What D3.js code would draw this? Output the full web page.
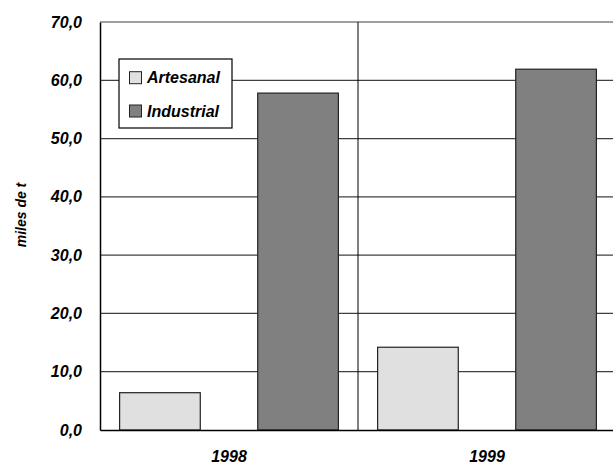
<!DOCTYPE html>
<html><head><meta charset="utf-8">
<script src="https://cdn.jsdelivr.net/npm/d3@7"></script>
<style>body{margin:0;background:#fff}svg{display:block}text{font-family:"Liberation Sans",Arial,sans-serif;font-weight:bold;font-style:italic}</style>
</head><body>
<svg id="c" width="613" height="466"></svg>
<script>
const categories = ["1998", "1999"];
const seriesNames = ["Artesanal", "Industrial"];
const artesanal = [6.4, 14.2];
const industrial = [57.8, 61.9];
const yTicks = [0, 10, 20, 30, 40, 50, 60, 70];
const colors = ["#e0e0e0", "#808080"];

(function () {
const svg = d3.select("#c");
const mLeft = 100, mRight = 616, mTop = 22, mBottom = 430;
const x0 = d3.scaleBand().domain(categories).range([mLeft, mRight]).padding(0);
const x1 = d3.scaleBand().domain(seriesNames).range([0, x0.bandwidth()]).paddingInner(0.416).paddingOuter(0.142);
const y = d3.scaleLinear().domain([0, 70]).range([mBottom, mTop]);
const fmt = v => d3.format(".1f")(v).replace(".", ",");

// gridlines
svg.append("g").selectAll("line").data(yTicks.filter(t => t > 0)).join("line")
  .attr("x1", mLeft).attr("x2", mRight).attr("y1", d => y(d)).attr("y2", d => y(d))
  .attr("stroke", "#404040").attr("stroke-width", 1.2);

// category separator
svg.append("line").attr("x1", x0("1999")).attr("x2", x0("1999")).attr("y1", mTop).attr("y2", mBottom)
  .attr("stroke", "#000").attr("stroke-width", 1);

const data = categories.map((c, i) => ({cat: c, vals: [artesanal[i], industrial[i]]}));
const g = svg.append("g").selectAll("g").data(data).join("g")
  .attr("transform", d => `translate(${x0(d.cat)},0)`);
g.selectAll("rect").data(d => d.vals.map((v, j) => ({name: seriesNames[j], v, j}))).join("rect")
  .attr("x", d => x1(d.name)).attr("width", x1.bandwidth())
  .attr("y", d => y(d.v)).attr("height", d => y(0) - y(d.v))
  .attr("fill", d => colors[d.j]).attr("stroke", "#222").attr("stroke-width", 1.2);

// axes
const yAxis = d3.axisLeft(y).tickValues(yTicks).tickFormat(fmt).tickSize(0).tickPadding(18);
const ya = svg.append("g").attr("transform", `translate(${mLeft},0)`).call(yAxis);
ya.select(".domain").attr("stroke", "#000").attr("stroke-width", 1.5);
ya.selectAll("text").attr("font-size", 16).attr("fill", "#000")
  .style("font-family", '"Liberation Sans",Arial,sans-serif').style("font-weight", "bold").style("font-style", "italic");

const xAxis = d3.axisBottom(x0).tickSize(0).tickPadding(21);
const xa = svg.append("g").attr("transform", `translate(0,${mBottom})`).call(xAxis);
xa.select(".domain").attr("stroke", "#000").attr("stroke-width", 1.5);
xa.selectAll("text").attr("font-size", 16).attr("fill", "#000")
  .style("font-family", '"Liberation Sans",Arial,sans-serif').style("font-weight", "bold").style("font-style", "italic");

// y title
svg.append("text").attr("transform", `translate(26,215) rotate(-90)`)
  .attr("text-anchor", "middle").attr("font-size", 14).text("miles de t");

// legend
const lg = svg.append("g").attr("transform", "translate(119,59)");
lg.append("rect").attr("width", 113).attr("height", 69).attr("fill", "#fff").attr("stroke", "#000").attr("stroke-width", 1.2);
seriesNames.forEach((n, i) => {
  lg.append("rect").attr("x", 10.5).attr("y", 12.7 + i * 33.3).attr("width", 12).attr("height", 12)
    .attr("fill", colors[i]).attr("stroke", "#222");
  lg.append("text").attr("x", 28).attr("y", 24.3 + i * 33.5).attr("font-size", 16).text(n);
});
})();
</script>
</body></html>
